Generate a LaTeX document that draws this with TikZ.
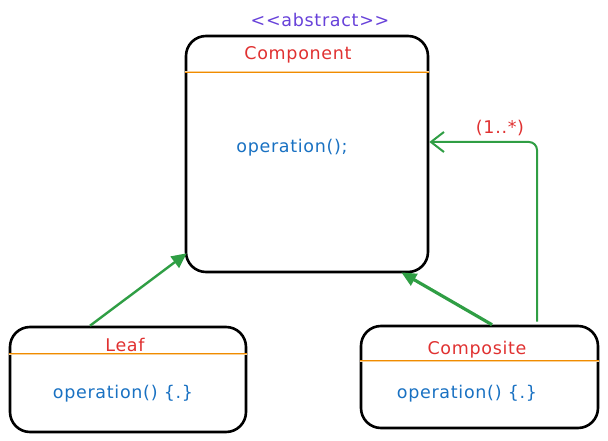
\documentclass[tikz,border=0pt]{standalone}
\usepackage{fontspec}
\setmainfont[LetterSpace=4]{DejaVu Sans}
\usetikzlibrary{arrows.meta,calc}
\definecolor{umlred}{HTML}{E03131}
\definecolor{umlblue}{HTML}{1971C2}
\definecolor{umlgreen}{HTML}{2F9E44}
\definecolor{umlorange}{HTML}{F08C00}
\definecolor{umlpurple}{HTML}{6741D9}
\begin{document}
\begin{tikzpicture}[x = 1pt, y = -1pt,
        umlbox/.style={draw, line width=2.6pt, rounded corners=20pt, inner sep=0pt},
        sepline/.style={draw=umlorange, line width=0.8pt, double=umlorange!40, double distance=1pt},
        every node/.style={font=\fontsize{17.5}{20}\selectfont}
]
    \useasboundingbox (0,0) rectangle (608,441);
    \node[umlbox, minimum width=242pt, minimum height=236pt] (comp) at (307,154) {};
    \node[umlbox, minimum width=236pt, minimum height=105pt] (leaf) at (128,379.5) {};
    \node[umlbox, minimum width=237pt, minimum height=102pt] (composite) at (479.5,377) {};
    % class compartments
    \draw[sepline] ($(comp.west)+(0,-82)$) -- ($(comp.east)+(0,-82)$);
    \draw[sepline] ($(leaf.west)+(0,-25.5)$) -- ($(leaf.east)+(0,-25.5)$);
    \draw[sepline] ($(composite.west)+(0,-16)$) -- ($(composite.east)+(0,-16)$);
    % texts
    \node[text=umlpurple] (abstr) at (320,20) {<{}<abstract>{}>};
    \node[text=umlred] (compname) at (298,55) {Component};
    \node[text=umlblue] (compop) at (292,148) {operation();};
    \node[text=umlred] (leafname) at (125,345) {Leaf};
    \node[text=umlblue] (leafop) at (123,394) {operation() \{.\}};
    \node[text=umlred] (compositename) at (477,350) {Composite};
    \node[text=umlblue] (compositeop) at (467,394) {operation() \{.\}};
    % relations
    \draw[umlgreen, line width=2.4pt, -{Triangle[length=15pt, width=14pt]}] ($(leaf.north)+(-38,0)$) -- ($(comp.south west)+(2,-20)$);
    \draw[umlgreen, line width=3.2pt, -{Triangle[length=15pt, width=13pt]}] ($(composite.north)+(12.5,0)$) -- ($(comp.south east)+(-28,-1)$);
    \draw[umlgreen, line width=2pt, rounded corners=8pt, -{Straight Barb[length=13pt, width=20pt, line width=2pt]}] ($(composite.north)+(57.5,-3)$) |- ($(comp.east)+(0,-12)$);
    \node[text=umlred] (mult) at (500,128) {(1..*)};
\end{tikzpicture}
\end{document}
